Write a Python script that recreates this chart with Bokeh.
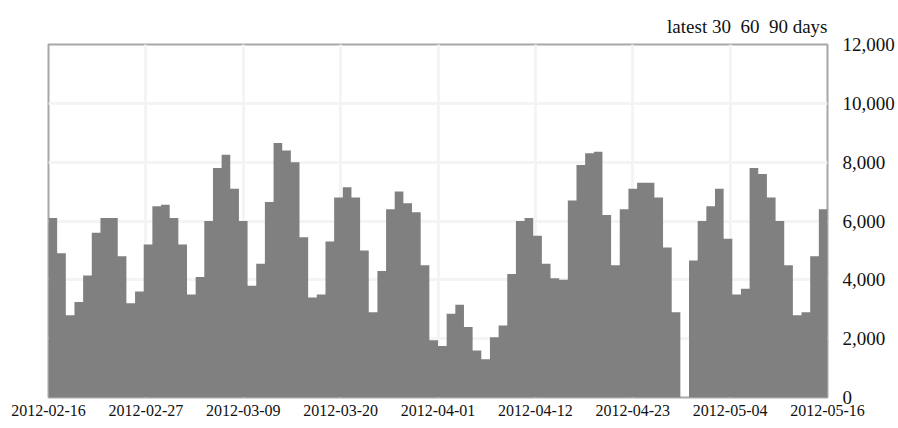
from bokeh.plotting import figure
from bokeh.models import Range1d, FixedTicker, NumeralTickFormatter
from bokeh.embed import file_html
from bokeh.resources import INLINE

# daily values, 2012-02-16 .. 2012-05-15 (one value per day)
values = [
    6100, 4900, 2800, 3250, 4150, 5600, 6100, 6100, 4800, 3200,
    3600, 5200, 6500, 6550, 6100, 5200, 3500, 4100, 6000, 7800,
    8250, 7100, 6000, 3800, 4550, 6650, 8650, 8400, 8000, 5450,
    3400, 3500, 5300, 6800, 7150, 6800, 5000, 2900, 4300, 6400,
    7000, 6600, 6300, 4500, 1950, 1750, 2850, 3150, 2400, 1600,
    1300, 2050, 2450, 4200, 6000, 6100, 5500, 4550, 4050, 4000,
    6700, 7900, 8300, 8350, 6200, 4500, 6400, 7100, 7300, 7300,
    6800, 5100, 2900, 0, 4660, 6000, 6500, 7100, 5400, 3500,
    3700, 7800, 7600, 6800, 6000, 4500, 2800, 2900, 4800, 6400,
]
tick_labels = ["2012-02-16", "2012-02-27", "2012-03-09", "2012-03-20", "2012-04-01",
               "2012-04-12", "2012-04-23", "2012-05-04", "2012-05-16"]
y_ticks = [0, 2000, 4000, 6000, 8000, 10000, 12000]
title_text = "latest 30\u00a0 60\u00a0 90 days"

n = len(values)
days = list(range(n + 1))
tops = values + [values[-1]]
x_ticks = [i * n / (len(tick_labels) - 1) for i in range(len(tick_labels))]

FONT = "Liberation Serif"

p = figure(width=898, height=428, output_backend="svg", toolbar_location=None,
           x_range=Range1d(0, n), y_range=Range1d(0, 12000),
           y_axis_location="right", title=title_text,
           min_border_left=48, min_border_top=44, min_border_bottom=31, min_border_right=71)

p.varea_step(x=days, y1=0, y2=tops, step_mode="after", fill_color="#808080")

p.title.align = "right"
p.title.text_font = FONT
p.title.text_font_size = "19px"
p.title.text_font_style = "normal"
p.title.text_color = "#111111"
p.title.standoff = 15

p.xaxis.ticker = FixedTicker(ticks=x_ticks)
p.xaxis.major_label_overrides = {t: lab for t, lab in zip(x_ticks, tick_labels)}
p.yaxis.ticker = FixedTicker(ticks=y_ticks)
p.yaxis.formatter = NumeralTickFormatter(format="0,0")

for ax in (p.xaxis, p.yaxis):
    ax.axis_line_color = None
    ax.major_tick_line_color = None
    ax.minor_tick_line_color = None
    ax.major_tick_out = 0
    ax.major_tick_in = 0
    ax.major_label_text_font = FONT
    ax.major_label_text_color = "#111111"
p.xaxis.major_label_text_font_size = "16px"
p.xaxis.major_label_standoff = 7
p.yaxis.major_label_text_font_size = "19px"
p.yaxis.major_label_standoff = 15

p.grid.grid_line_color = "#f4f4f4"
p.grid.grid_line_width = 3
p.outline_line_color = "#a8a8a8"
p.outline_line_width = 2
p.background_fill_color = "white"
p.border_fill_color = "white"

open("out.html", "w").write(file_html(p, INLINE))
